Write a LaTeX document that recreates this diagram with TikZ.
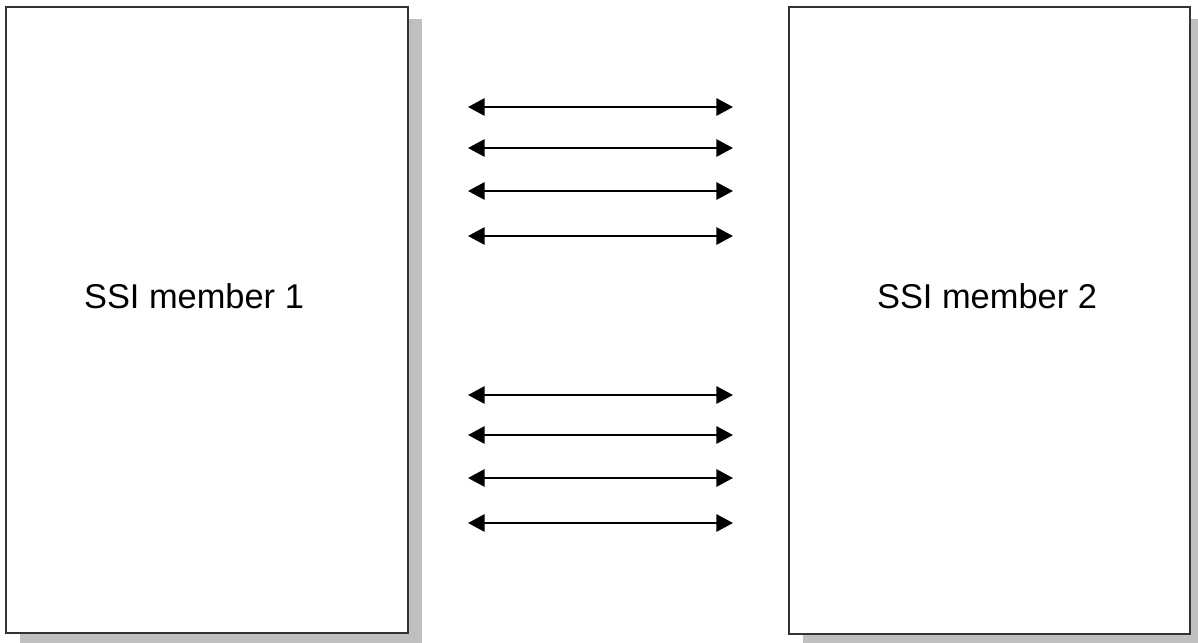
\documentclass[tikz,border=0pt]{standalone}
\usepackage{fontspec}
\setmainfont{Liberation Sans}
\usetikzlibrary{positioning,arrows.meta,shadows}

\begin{document}
\begin{tikzpicture}[x=0.75pt,y=-0.75pt,
    member/.style={draw=black!80, line width=1.5pt, fill=white,
        minimum width=301.5pt, minimum height=469.5pt, inner sep=0pt, outer sep=0pt,
        drop shadow={shadow xshift=10.5pt, shadow yshift=-9pt, fill=gray!50, opacity=1}},
    memberlabel/.style={inner sep=0pt, font=\fontsize{25.8}{30}\selectfont},
    link/.style={{Triangle[length=12.5pt,width=13pt]}-{Triangle[length=12.5pt,width=13pt]}, line width=1.6pt}
]
    \useasboundingbox (0,0) rectangle (1198,642);

    \node[member] (member one) at (207,320) {};
    \node[member, minimum width=300.75pt, minimum height=470.25pt] (member two) at (989.5,320.5) {};

    \node[memberlabel] (label one) at (194,296) {SSI member 1};
    \node[memberlabel] (label two) at (987,296) {SSI member 2};

    \foreach \y [count=\i] in {107,148,191,236,395,435,478,523} {
        \coordinate (link \i-w) at (468,\y);
        \coordinate (link \i-e) at (733,\y);
        \draw[link] (link \i-w) -- (link \i-e);
    }
\end{tikzpicture}
\end{document}
